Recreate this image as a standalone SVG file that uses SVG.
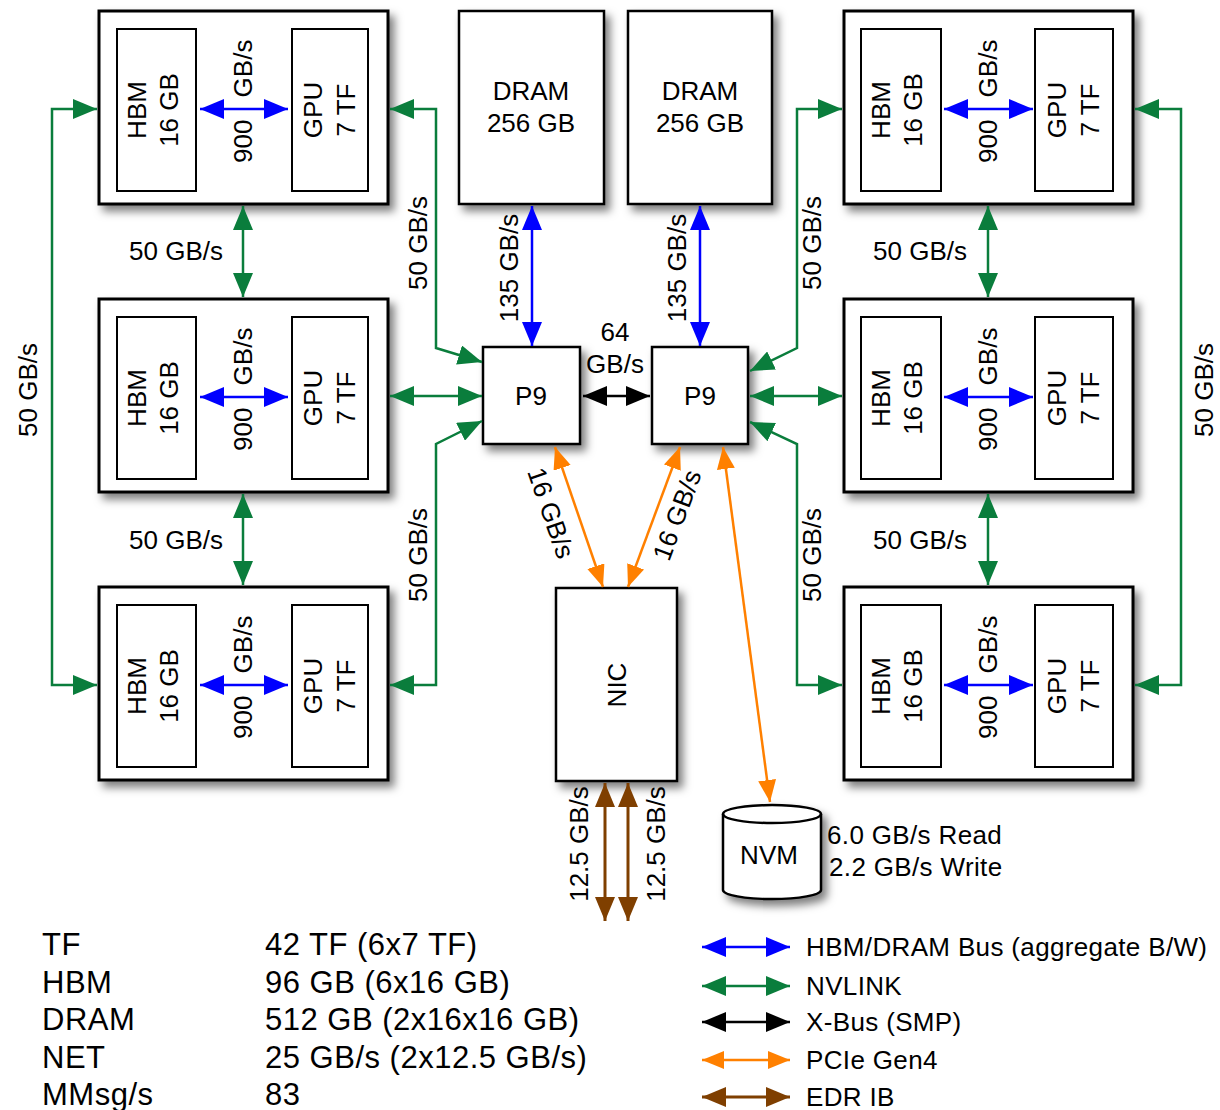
<svg xmlns="http://www.w3.org/2000/svg" width="1220" height="1110" viewBox="0 0 1220 1110">
<style>
.t{font-family:"Liberation Sans",Arial,sans-serif;font-size:26px;fill:#000}
.m{text-anchor:middle}
.box{fill:#fff;stroke:#000;stroke-width:3}
.inner{fill:#fff;stroke:#000;stroke-width:2}
.blk{fill:#fff;stroke:#000;stroke-width:2.5}
.cg{fill:none;stroke:#0a7d3c;stroke-width:2.5;marker-start:url(#mg);marker-end:url(#mg)}
.cb{fill:none;stroke:#0000ff;stroke-width:2.5;marker-start:url(#mb);marker-end:url(#mb)}
.ck{fill:none;stroke:#000;stroke-width:2.5;marker-start:url(#mk);marker-end:url(#mk)}
.co{fill:none;stroke:#ff8000;stroke-width:2.5;marker-start:url(#mo);marker-end:url(#mo)}
.cr{fill:none;stroke:#7f3f00;stroke-width:3;marker-start:url(#mr);marker-end:url(#mr)}
.lg{font-size:31px;letter-spacing:0.5px}
.lr{letter-spacing:0.35px}
</style>
<defs>
<filter id="sh" x="-20%" y="-20%" width="150%" height="150%">
<feDropShadow dx="5" dy="6" stdDeviation="4" flood-color="#000" flood-opacity="0.5"/>
</filter>
<marker id="mg" viewBox="0 0 24 20" refX="24" refY="10" markerWidth="24" markerHeight="20" markerUnits="userSpaceOnUse" orient="auto-start-reverse"><path d="M0,0L24,10L0,20z" fill="#0a7d3c"/></marker>
<marker id="mb" viewBox="0 0 24 20" refX="24" refY="10" markerWidth="24" markerHeight="20" markerUnits="userSpaceOnUse" orient="auto-start-reverse"><path d="M0,0L24,10L0,20z" fill="#0000ff"/></marker>
<marker id="mk" viewBox="0 0 24 20" refX="24" refY="10" markerWidth="24" markerHeight="20" markerUnits="userSpaceOnUse" orient="auto-start-reverse"><path d="M0,0L24,10L0,20z" fill="#000"/></marker>
<marker id="mo" viewBox="0 0 22 18" refX="22" refY="9" markerWidth="22" markerHeight="18" markerUnits="userSpaceOnUse" orient="auto-start-reverse"><path d="M0,0L22,9L0,18z" fill="#ff8000"/></marker>
<marker id="mr" viewBox="0 0 24 20" refX="24" refY="10" markerWidth="24" markerHeight="20" markerUnits="userSpaceOnUse" orient="auto-start-reverse"><path d="M0,0L24,10L0,20z" fill="#7f3f00"/></marker>
</defs>
<rect width="1220" height="1110" fill="#fff"/>

<g id="gpu-l1" transform="translate(99,11)">
<rect class="box" filter="url(#sh)" x="0" y="0" width="289" height="193"/>
<rect class="inner" x="18" y="18" width="79" height="162"/>
<rect class="inner" x="193" y="18" width="76" height="162"/>
<text class="t m" transform="translate(47,99) rotate(-90)">HBM</text>
<text class="t m" transform="translate(79,99) rotate(-90)">16 GB</text>
<text class="t m" transform="translate(223,99) rotate(-90)">GPU</text>
<text class="t m" transform="translate(256,99) rotate(-90)">7 TF</text>
</g>
<g id="gpu-l2" transform="translate(99,299)">
<rect class="box" filter="url(#sh)" x="0" y="0" width="289" height="193"/>
<rect class="inner" x="18" y="18" width="79" height="162"/>
<rect class="inner" x="193" y="18" width="76" height="162"/>
<text class="t m" transform="translate(47,99) rotate(-90)">HBM</text>
<text class="t m" transform="translate(79,99) rotate(-90)">16 GB</text>
<text class="t m" transform="translate(223,99) rotate(-90)">GPU</text>
<text class="t m" transform="translate(256,99) rotate(-90)">7 TF</text>
</g>
<g id="gpu-l3" transform="translate(99,587)">
<rect class="box" filter="url(#sh)" x="0" y="0" width="289" height="193"/>
<rect class="inner" x="18" y="18" width="79" height="162"/>
<rect class="inner" x="193" y="18" width="76" height="162"/>
<text class="t m" transform="translate(47,99) rotate(-90)">HBM</text>
<text class="t m" transform="translate(79,99) rotate(-90)">16 GB</text>
<text class="t m" transform="translate(223,99) rotate(-90)">GPU</text>
<text class="t m" transform="translate(256,99) rotate(-90)">7 TF</text>
</g>
<g id="gpu-r1" transform="translate(844,11)">
<rect class="box" filter="url(#sh)" x="0" y="0" width="289" height="193"/>
<rect class="inner" x="17" y="18" width="80" height="162"/>
<rect class="inner" x="191" y="18" width="78" height="162"/>
<text class="t m" transform="translate(46,99) rotate(-90)">HBM</text>
<text class="t m" transform="translate(78,99) rotate(-90)">16 GB</text>
<text class="t m" transform="translate(222,99) rotate(-90)">GPU</text>
<text class="t m" transform="translate(255,99) rotate(-90)">7 TF</text>
</g>
<g id="gpu-r2" transform="translate(844,299)">
<rect class="box" filter="url(#sh)" x="0" y="0" width="289" height="193"/>
<rect class="inner" x="17" y="18" width="80" height="162"/>
<rect class="inner" x="191" y="18" width="78" height="162"/>
<text class="t m" transform="translate(46,99) rotate(-90)">HBM</text>
<text class="t m" transform="translate(78,99) rotate(-90)">16 GB</text>
<text class="t m" transform="translate(222,99) rotate(-90)">GPU</text>
<text class="t m" transform="translate(255,99) rotate(-90)">7 TF</text>
</g>
<g id="gpu-r3" transform="translate(844,587)">
<rect class="box" filter="url(#sh)" x="0" y="0" width="289" height="193"/>
<rect class="inner" x="17" y="18" width="80" height="162"/>
<rect class="inner" x="191" y="18" width="78" height="162"/>
<text class="t m" transform="translate(46,99) rotate(-90)">HBM</text>
<text class="t m" transform="translate(78,99) rotate(-90)">16 GB</text>
<text class="t m" transform="translate(222,99) rotate(-90)">GPU</text>
<text class="t m" transform="translate(255,99) rotate(-90)">7 TF</text>
</g>

<g id="dram-1">
<rect class="blk" filter="url(#sh)" x="459" y="11" width="145" height="193"/>
<text class="t m" x="531" y="100">DRAM</text>
<text class="t m" x="531" y="132">256 GB</text>
</g>
<g id="dram-2">
<rect class="blk" filter="url(#sh)" x="628" y="11" width="144" height="193"/>
<text class="t m" x="700" y="100">DRAM</text>
<text class="t m" x="700" y="132">256 GB</text>
</g>
<g id="p9-1">
<rect class="blk" filter="url(#sh)" x="483" y="347" width="97" height="97"/>
<text class="t m" x="531" y="405">P9</text>
</g>
<g id="p9-2">
<rect class="blk" filter="url(#sh)" x="652" y="347" width="96" height="97"/>
<text class="t m" x="700" y="405">P9</text>
</g>
<g id="nic">
<rect class="blk" filter="url(#sh)" x="556" y="588" width="121" height="193"/>
<text class="t m" transform="translate(626,685) rotate(-90)">NIC</text>
</g>
<g id="nvm">
<path class="blk" filter="url(#sh)" d="M723,814 A49,9 0 0,1 821,814 L821,890 A49,9 0 0,1 723,890 Z"/>
<path d="M723,814 A49,9 0 0,0 821,814" fill="none" stroke="#000" stroke-width="2.5"/>
<text class="t m" x="769" y="864">NVM</text>
<text class="t lr" x="827" y="844">6.0 GB/s Read</text>
<text class="t lr" x="829" y="876">2.2 GB/s Write</text>
</g>

<g id="connectors">
<path class="cb" d="M200,109H288"/>
<path class="cb" d="M200,397H288"/>
<path class="cb" d="M200,685H288"/>
<path class="cb" d="M944,109H1033"/>
<path class="cb" d="M944,397H1033"/>
<path class="cb" d="M944,685H1033"/>
<path class="cb" d="M532,206V346"/>
<path class="cb" d="M700,206V346"/>
<path class="ck" d="M583,396H650"/>
<path class="cg" d="M97,109H52V685H97"/>
<path class="cg" d="M1135,109H1181V685H1135"/>
<path class="cg" d="M243,206V297"/>
<path class="cg" d="M243,494V585"/>
<path class="cg" d="M988,206V297"/>
<path class="cg" d="M988,494V585"/>
<path class="cg" d="M390,109H436V348L482,362"/>
<path class="cg" d="M390,396H482"/>
<path class="cg" d="M390,685H436V444L482,421"/>
<path class="cg" d="M842,109H797V348L750,371"/>
<path class="cg" d="M842,396H750"/>
<path class="cg" d="M842,685H797V444L750,422"/>
<path class="co" d="M555,447L603,587"/>
<path class="co" d="M680,447L628,587"/>
<path class="co" d="M723,447L770,802"/>
<path class="cr" d="M605,783V921"/>
<path class="cr" d="M628,783V921"/>

<text class="t" transform="translate(252,163) rotate(-90)">900<tspan dx="15"> GB/s</tspan></text>
<text class="t" transform="translate(252,451) rotate(-90)">900<tspan dx="15"> GB/s</tspan></text>
<text class="t" transform="translate(252,739) rotate(-90)">900<tspan dx="15"> GB/s</tspan></text>
<text class="t" transform="translate(997,163) rotate(-90)">900<tspan dx="15"> GB/s</tspan></text>
<text class="t" transform="translate(997,451) rotate(-90)">900<tspan dx="15"> GB/s</tspan></text>
<text class="t" transform="translate(997,739) rotate(-90)">900<tspan dx="15"> GB/s</tspan></text>
<text class="t m" x="176" y="260">50 GB/s</text>
<text class="t m" x="176" y="549">50 GB/s</text>
<text class="t m" x="920" y="260">50 GB/s</text>
<text class="t m" x="920" y="549">50 GB/s</text>
<text class="t m" transform="translate(427,243) rotate(-90)">50 GB/s</text>
<text class="t m" transform="translate(427,555) rotate(-90)">50 GB/s</text>
<text class="t m" transform="translate(821,243) rotate(-90)">50 GB/s</text>
<text class="t m" transform="translate(821,555) rotate(-90)">50 GB/s</text>
<text class="t m" transform="translate(37,390) rotate(-90)">50 GB/s</text>
<text class="t m" transform="translate(1213,390) rotate(-90)">50 GB/s</text>
<text class="t m" transform="translate(518,268) rotate(-90)">135 GB/s</text>
<text class="t m" transform="translate(686,268) rotate(-90)">135 GB/s</text>
<text class="t m" x="615" y="341">64</text>
<text class="t m" x="615" y="373">GB/s</text>
<text class="t m" transform="translate(551,513) rotate(70.8)" dy="9">16 GB/s</text>
<text class="t m" transform="translate(677,515) rotate(-69.4)" dy="9">16 GB/s</text>
<text class="t m" transform="translate(588,844) rotate(-90)">12.5 GB/s</text>
<text class="t m" transform="translate(665,844) rotate(-90)">12.5 GB/s</text>
</g>

<g id="legend">
<text class="t lg" x="42" y="955">TF</text>
<text class="t lg" x="42" y="993">HBM</text>
<text class="t lg" x="42" y="1030">DRAM</text>
<text class="t lg" x="42" y="1068">NET</text>
<text class="t lg" x="42" y="1105">MMsg/s</text>
<text class="t lg" x="265" y="955">42 TF (6x7 TF)</text>
<text class="t lg" x="265" y="993">96 GB (6x16 GB)</text>
<text class="t lg" x="265" y="1030">512 GB (2x16x16 GB)</text>
<text class="t lg" x="265" y="1068">25 GB/s (2x12.5 GB/s)</text>
<text class="t lg" x="265" y="1105">83</text>
<path class="cb" d="M702,947H790"/>
<path class="cg" d="M702,986H790"/>
<path class="ck" d="M702,1022H790"/>
<path class="co" d="M702,1060H790"/>
<path class="cr" d="M702,1097H790"/>
<text class="t lr" x="806" y="956">HBM/DRAM Bus (aggregate B/W)</text>
<text class="t lr" x="806" y="995">NVLINK</text>
<text class="t lr" x="806" y="1031">X-Bus (SMP)</text>
<text class="t lr" x="806" y="1069">PCIe Gen4</text>
<text class="t lr" x="806" y="1106">EDR IB</text>
</g>
</svg>
